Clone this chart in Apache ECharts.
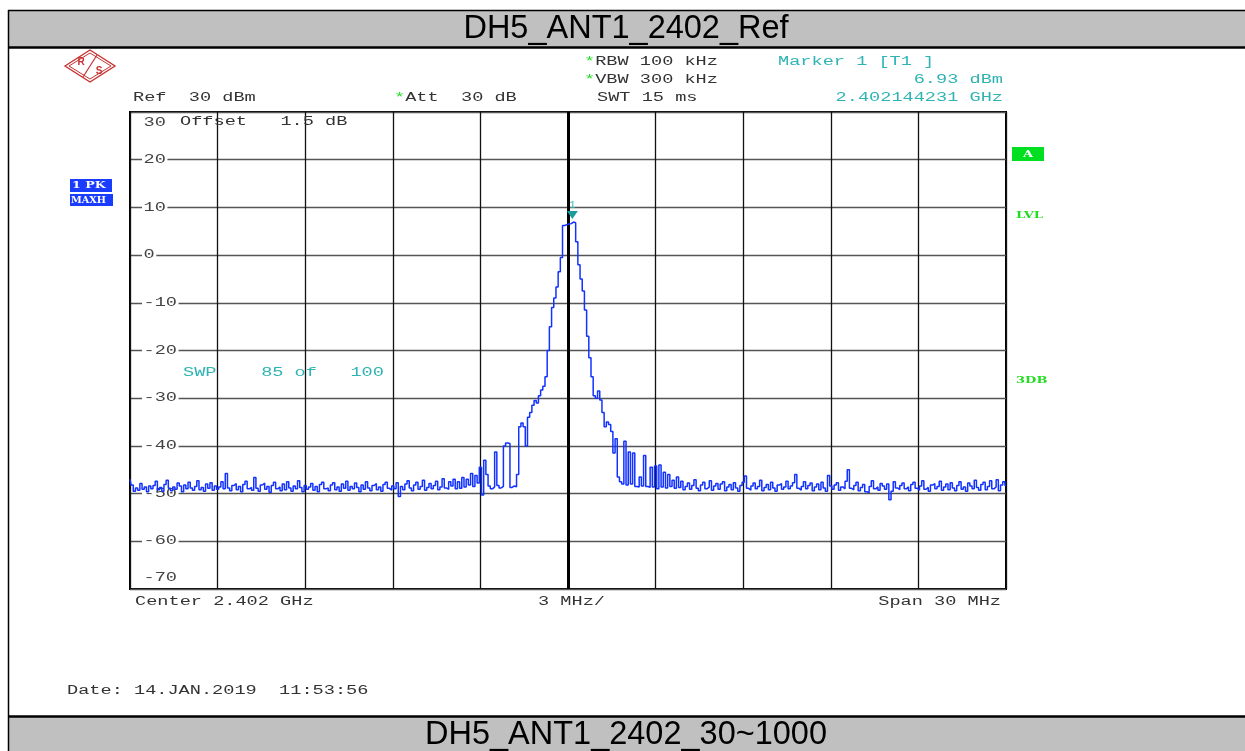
<!DOCTYPE html>
<html><head><meta charset="utf-8">
<script src="https://cdn.jsdelivr.net/npm/echarts@6/dist/echarts.min.js"></script>
<style>html,body{margin:0;padding:0;background:#fff;}#c{width:1245px;height:751px;}</style>
</head><body><div id="c"></div><script>
// ---- data ----
const spanStartMHz = -15;      // offset from center 2.402 GHz
const pointStepMHz = 0.075;    // sweep point spacing used here
const levelsLeftNoise = [
 -47.0,-48.2,-49.5,-48.8,-49.3,-47.9,-49.1,-48.6,-49.6,-48.4,
 -49.0,-48.3,-47.4,-49.2,-48.7,-49.5,-48.1,-47.2,-48.9,-49.4,
 -48.6,-49.1,-47.8,-48.4,-49.6,-48.2,-49.0,-47.6,-48.8,-49.3,
 -48.5,-47.3,-49.2,-48.7,-49.5,-48.0,-48.9,-47.7,-49.3,-48.4,
 -49.1,-48.6,-47.5,-49.0,-45.8,-48.8,-49.4,-48.3,-47.9,-49.2,
 -48.5,-49.6,-48.1,-47.4,-49.0,-48.7,-49.3,-46.6,-48.9,-49.5,
 -48.2,-47.8,-49.1,-48.5,-49.7,-48.3,-47.6,-49.0,-48.6,-49.4,
 -48.0,-49.2,-47.5,-48.8,-49.5,-48.4,-49.0,-47.3,-48.7,-49.6,
 -48.3,-49.1,-48.6,-47.9,-49.3,-48.5,-49.6,-48.1,-47.6,-49.0,
 -48.8,-49.4,-48.2,-47.7,-49.2,-48.6,-49.5,-48.0,-48.9,-47.4,
 -49.3,-48.5,-49.0,-47.8,-48.7,-49.6,-48.2,-49.1,-47.5,-48.8,
 -49.4,-48.3,-47.9,-49.2,-48.6,-49.5,-48.1,-47.6,-48.9,-49.3,
 -48.4,-49.0,-47.7,-50.6,-48.5,-49.2,-48.0,-47.3,-48.8,-49.4,
 -48.2,-47.6,-49.1,-48.5,-47.2,-49.3,-48.7,-47.9,-49.0,-48.3,
 -47.4,-49.2,-48.6,-46.9,-48.8,-49.1,-47.5,-48.4,-47.0,-49.0
];
const levelsCarrier = [
 -47.5,-48.9,-46.6,-48.6,-47.0,-48.2,-45.8,-48.5,-46.2,-47.8,
 -44.5,-50.3,-43.0,-46.0,-48.4,-49.0,-48.6,-41.3,-48.3,-48.8,
 -48.5,-40.0,-39.4,-39.5,-48.7,-48.4,-48.6,-46.0,-36.0,-35.2,
 -36.0,-40.0,-34.0,-33.0,-31.5,-30.5,-31.0,-29.5,-28.3,-27.5,
 -25.5,-20.0,-15.0,-11.0,-9.0,-6.7,-3.5,-0.5,6.2,6.4,
 6.5,6.6,6.93,6.8,2.8,-2.0,-5.0,-7.5,-11.5,-17.0,
 -21.5,-25.5,-29.5,-30.0,-28.5,-30.4,-33.0,-36.0,-35.0,-35.5,
 -37.0,-41.5,-38.5,-46.5,-47.5,-48.0,-39.0,-48.2,-41.3,-48.0,
 -41.5,-48.5,-48.6,-46.5,-48.4,-42.0,-48.5,-48.7,-44.5,-48.6,
 -44.2,-49.0,-44.0,-48.6,-45.5,-48.8,-46.0,-48.5,-47.2,-48.9,
 -46.5
];
const levelsRightNoise = [
 -48.7,-47.4,-49.2,-48.5,-47.8,-49.1,-48.3,-47.1,-48.9,-49.4,
 -48.2,-47.6,-49.0,-48.6,-47.3,-49.3,-48.4,-47.9,-49.1,-48.0,
 -47.5,-49.4,-48.6,-48.1,-49.2,-47.7,-48.8,-49.5,-48.3,-47.6,
 -46.3,-48.9,-49.3,-48.4,-47.8,-49.0,-48.5,-47.2,-49.4,-48.7,
 -48.1,-49.2,-47.6,-48.8,-49.5,-48.2,-47.9,-49.1,-48.6,-47.4,
 -49.0,-48.4,-47.7,-46.0,-48.9,-49.3,-48.5,-47.5,-49.0,-48.3,
 -47.8,-49.4,-48.6,-48.0,-49.2,-47.6,-48.8,-49.5,-46.2,-48.4,
 -49.1,-48.2,-47.7,-49.3,-48.6,-49.0,-47.4,-45.0,-48.9,-49.2,
 -48.3,-47.6,-49.4,-48.7,-48.1,-49.6,-49.8,-48.5,-47.3,-49.0,
 -48.6,-49.3,-47.9,-48.4,-49.1,-48.0,-51.3,-49.5,-47.5,-48.8,
 -49.2,-48.3,-47.8,-49.0,-48.6,-49.4,-48.1,-47.6,-48.9,-49.3,
 -48.4,-47.3,-49.1,-48.7,-49.5,-48.2,-47.9,-49.0,-48.5,-47.4,
 -49.3,-48.6,-48.0,-49.2,-47.7,-48.8,-49.4,-48.3,-47.5,-49.1,
 -48.6,-49.5,-47.8,-48.4,-49.0,-47.2,-48.7,-49.3,-48.1,-47.6,
 -49.2,-48.5,-47.3,-49.0,-48.6,-47.1,-49.4,-48.2,-47.5,-48.3
];
const markerIndex = 202;
const markerLevel = 6.93;
const yMin = -70, yMax = 30, yStep = 10;
const xMin = -15, xMax = 15, xStep = 3;
const yTickLabels = ['30', '20', '10', '0', '-10', '-20', '-30', '-40', '-50', '-60', '-70'];
const titleTop = 'DH5_ANT1_2402_Ref';
const titleBottom = 'DH5_ANT1_2402_30~1000';

// ---- build ----
const levelsDbm = levelsLeftNoise.concat(levelsCarrier, levelsRightNoise);
const traceData = levelsDbm.map((v, i) => [spanStartMHz + i * pointStepMHz, v]);
const MONO = '"Liberation Mono", "DejaVu Sans Mono", monospace';
const TEAL = '#2fb3b3';
const GREEN = '#22dd22';
const SX = 1.55;
function mono(x, y, text, fill, align, extra, styleExtra) {
  return Object.assign({
    type: 'text', x: x, y: y, scaleX: SX, z: 100,
    style: Object.assign({ text: text, fill: fill || '#333', font: '12px ' + MONO,
      align: align || 'left', verticalAlign: 'middle',
      rich: { g: { fill: GREEN, font: '12px ' + MONO } } }, styleExtra || {})
  }, extra || {});
}
function badge(x, y, text, fill, align, sx) {
  return { type: 'text', x: x, y: y, z: 4, scaleX: sx || 1.45,
    style: { text: text, font: 'bold 9px "DejaVu Serif", serif', fill: fill,
      align: align || 'left', verticalAlign: 'middle' } };
}
const TITLE_FONT = '32.5px "Liberation Sans", Arial, sans-serif';

const baseGraphic = [
  { type: 'rect', shape: { x: 8, y: 10, width: 1240, height: 37 }, style: { fill: '#c0c0c0' }, z: 1 },
  { type: 'line', shape: { x1: 8, y1: 10.5, x2: 1245, y2: 10.5 }, style: { stroke: '#000', lineWidth: 1.5 }, z: 2 },
  { type: 'line', shape: { x1: 8, y1: 47.5, x2: 1245, y2: 47.5 }, style: { stroke: '#000', lineWidth: 2.5 }, z: 2 },
  { type: 'rect', shape: { x: 8, y: 716, width: 1240, height: 40 }, style: { fill: '#c0c0c0' }, z: 1 },
  { type: 'line', shape: { x1: 8, y1: 716.5, x2: 1245, y2: 716.5 }, style: { stroke: '#000', lineWidth: 2.5 }, z: 2 },
  { type: 'line', shape: { x1: 8.5, y1: 10, x2: 8.5, y2: 751 }, style: { stroke: '#000', lineWidth: 1.5 }, z: 2 },
  { type: 'text', x: 626, y: 29, z: 3, scaleY: 1.05,
    style: { text: titleTop, font: TITLE_FONT, fill: '#000', align: 'center', verticalAlign: 'middle' } },
  { type: 'text', x: 626, y: 735, z: 3, scaleY: 1.05,
    style: { text: titleBottom, font: TITLE_FONT, fill: '#000', align: 'center', verticalAlign: 'middle' } },
  // R&S logo
  { type: 'polygon', shape: { points: [[65, 66], [90, 50], [115, 66], [90, 82]] }, style: { fill: 'none', stroke: '#c83232', lineWidth: 1.4 }, z: 3 },
  { type: 'polygon', shape: { points: [[69, 66], [90, 53], [111, 66], [90, 79]] }, style: { fill: 'none', stroke: '#c83232', lineWidth: 1 }, z: 3 },
  { type: 'line', shape: { x1: 97, y1: 55, x2: 83, y2: 77 }, style: { stroke: '#c83232', lineWidth: 1.2 }, z: 3 },
  { type: 'text', x: 81, y: 62, z: 3, style: { text: 'R', font: 'bold 10px "Liberation Sans", Arial', fill: '#c83232', align: 'center', verticalAlign: 'middle' } },
  { type: 'text', x: 99, y: 71, z: 3, style: { text: 'S', font: 'bold 10px "Liberation Sans", Arial', fill: '#c83232', align: 'center', verticalAlign: 'middle' } },
  // header texts
  mono(584, 62, '{g|*}RBW 100 kHz'),
  mono(584, 80, '{g|*}VBW 300 kHz'),
  mono(597, 98, 'SWT 15 ms'),
  mono(133, 98, 'Ref  30 dBm'),
  mono(394, 98, '{g|*}Att  30 dB'),
  mono(778, 62, 'Marker 1 [T1 ]', TEAL),
  mono(1003, 80, '6.93 dBm', TEAL, 'right'),
  mono(1003, 98, '2.402144231 GHz', TEAL, 'right'),
  mono(180, 122, 'Offset   1.5 dB'),
  mono(183, 373, 'SWP    85 of   100', TEAL),
  mono(135, 602, 'Center 2.402 GHz'),
  mono(538, 602, '3 MHz/'),
  mono(1001, 602, 'Span 30 MHz', '#333', 'right'),
  mono(67, 691, 'Date: 14.JAN.2019  11:53:56'),
  // side boxes
  { type: 'rect', shape: { x: 70, y: 179, width: 42, height: 13 }, style: { fill: '#1a3cff' }, z: 3 },
  badge(72, 186, '1 PK', '#fff', 'left', 1.4),
  { type: 'rect', shape: { x: 70, y: 194, width: 43, height: 12 }, style: { fill: '#1a3cff' }, z: 3 },
  badge(71, 200.5, 'MAXH', '#fff', 'left', 1.08),
  { type: 'rect', shape: { x: 1012, y: 147, width: 32, height: 14 }, style: { fill: '#00e020' }, z: 3 },
  badge(1028, 155, 'A', '#fff', 'center'),
  badge(1016, 216, 'LVL', GREEN),
  badge(1016, 381, '3DB', GREEN)
];

const chart = echarts.init(document.getElementById('c'), null, { renderer: 'canvas' });
const option = {
  animation: false,
  backgroundColor: '#fff',
  grid: { left: 130, top: 112, width: 876, height: 477, show: true,
    borderColor: '#000', borderWidth: 2, backgroundColor: 'transparent' },
  xAxis: { type: 'value', min: xMin, max: xMax, interval: xStep,
    axisLabel: { show: false }, axisTick: { show: false }, axisLine: { show: false },
    splitLine: { show: true, lineStyle: { color: '#111', width: 1.3 } } },
  yAxis: { type: 'value', min: yMin, max: yMax, interval: yStep,
    axisTick: { show: false }, axisLine: { show: false }, axisLabel: { show: false },
    splitLine: { show: true, lineStyle: { color: '#555', width: 1.3 } } },
  series: [{
    type: 'line', data: traceData, step: 'middle', showSymbol: false, silent: true,
    lineStyle: { color: '#1232ff', width: 1.5 }, z: 5,
    markLine: { silent: true, symbol: 'none', label: { show: false },
      lineStyle: { color: '#000', width: 3, type: 'solid' },
      data: [{ xAxis: 0 }] },
    markPoint: { silent: true,
      data: [{ coord: traceData[markerIndex], value: markerLevel }],
      symbol: 'triangle', symbolRotate: 180, symbolSize: [11, 8], symbolOffset: [0, -7],
      itemStyle: { color: '#1a9c9c' },
      label: { show: true, position: 'top', distance: 1, formatter: '1',
        color: TEAL, fontSize: 10, fontFamily: MONO } }
  }],
  graphic: baseGraphic
};
chart.setOption(option);

// y tick labels, placed through the axis scale
const tickGraphic = yTickLabels.map(function (t) {
  const v = Number(t);
  let py = chart.convertToPixel({ gridIndex: 0 }, [xMin, v])[1];
  if (v === yMax) py += 11;
  if (v === yMin) py -= 11;
  return mono(142, py, t, '#444', 'left', { z: 2 },
    { backgroundColor: (v === yMax || v === yMin) ? 'transparent' : '#fff', padding: [0, 1] });
});
chart.setOption({ graphic: baseGraphic.concat(tickGraphic) });
</script></body></html>
